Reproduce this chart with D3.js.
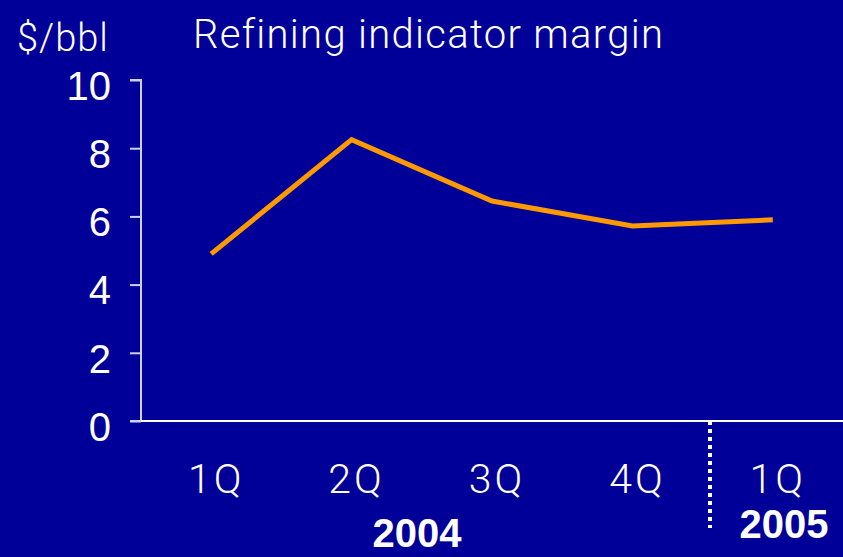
<!DOCTYPE html>
<html>
<head>
<meta charset="utf-8">
<script src="https://cdn.jsdelivr.net/npm/d3@7"></script>
<style>
  html, body { margin: 0; padding: 0; background: #000099; }
  svg { display: block; }
</style>
</head>
<body>
<div id="viz"></div>
<script>
// data
const quarters = ["1Q", "2Q", "3Q", "4Q", "1Q "];
const quarterLabels = ["1Q", "2Q", "3Q", "4Q", "1Q"];
const margins = [4.9, 8.25, 6.45, 5.72, 5.9];
const yTicks = [0, 2, 4, 6, 8, 10];
const years = ["2004", "2005"];

let width = 843;
let height = 557;

const svg = d3.select("#viz")
    .append("svg")
    .attr("width", width)
    .attr("height", height)
    .style("font-family", "'Roboto Light', Roboto, 'Liberation Sans', sans-serif");

svg.append("rect")
    .attr("width", width)
    .attr("height", height)
    .attr("fill", "#000099");

const x = d3.scaleBand()
    .domain(quarters)
    .range([141, 843]);

const y = d3.scaleLinear()
    .domain([0, 10])
    .range([421, 80]);

// y axis
const yAxis = svg.append("g")
    .attr("transform", "translate(141,0)")
    .call(d3.axisLeft(y).tickValues(yTicks).tickSize(11).tickPadding(19));

yAxis.select(".domain")
    .attr("stroke", "#d0d0f0")
    .attr("stroke-width", 2)
    .attr("d", "M-11,80H0V421H-11");
yAxis.selectAll(".tick line")
    .attr("stroke", "#d0d0f0")
    .attr("stroke-width", 2);
yAxis.selectAll(".tick text")
    .attr("fill", "white")
    .attr("font-size", 40)
    .attr("font-weight", 300)
    .attr("dy", "0.48em");

// x axis line
const xAxis = svg.append("g")
    .attr("transform", "translate(0,421)")
    .call(d3.axisBottom(x).tickSize(0).tickFormat(""));
xAxis.select(".domain")
    .attr("stroke", "white")
    .attr("stroke-width", 2)
    .attr("d", "M141,0H843");

// quarter labels
svg.append("g")
    .selectAll("text")
    .data(quarters)
    .enter().append("text")
    .attr("x", d => x(d) + x.bandwidth() / 2 + 5)
    .attr("y", 493)
    .attr("text-anchor", "middle")
    .attr("fill", "white")
    .attr("font-size", 41)
    .attr("font-weight", 300)
    .attr("letter-spacing", 3)
    .text((d, i) => quarterLabels[i]);

// year labels
svg.append("text")
    .attr("x", 417)
    .attr("y", 547)
    .attr("text-anchor", "middle")
    .attr("fill", "white")
    .attr("font-size", 40)
    .attr("font-weight", "bold")
    .style("font-family", "'Liberation Sans', Arial, sans-serif")
    .text(years[0]);

svg.append("text")
    .attr("x", 784)
    .attr("y", 538)
    .attr("text-anchor", "middle")
    .attr("fill", "white")
    .attr("font-size", 40)
    .attr("font-weight", "bold")
    .style("font-family", "'Liberation Sans', Arial, sans-serif")
    .text(years[1]);

// dotted separator between years
svg.append("line")
    .attr("x1", 710)
    .attr("x2", 710)
    .attr("y1", 421)
    .attr("y2", 528)
    .attr("stroke", "white")
    .attr("stroke-width", 4)
    .attr("stroke-dasharray", "4,4");

// the line
const line = d3.line()
    .x((d, i) => x(quarters[i]) + x.bandwidth() / 2)
    .y(d => y(d));

svg.append("path")
    .datum(margins)
    .attr("fill", "none")
    .attr("stroke", "#ff9900")
    .attr("stroke-width", 5)
    .attr("d", line);

// titles
svg.append("text")
    .attr("x", 17)
    .attr("y", 51)
    .attr("fill", "white")
    .attr("font-size", 38)
    .attr("font-weight", 300)
    .attr("letter-spacing", 1)
    .text("$/bbl");

svg.append("text")
    .attr("x", 193)
    .attr("y", 48)
    .attr("fill", "white")
    .attr("font-size", 40)
    .attr("font-weight", 300)
    .attr("letter-spacing", 1.3)
    .text("Refining indicator margin");
</script>
</body>
</html>
